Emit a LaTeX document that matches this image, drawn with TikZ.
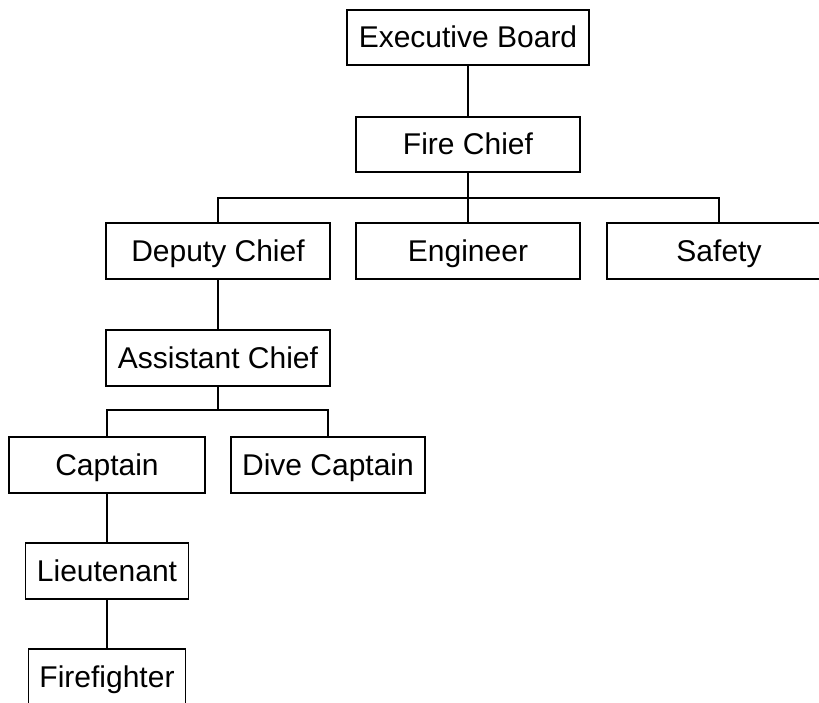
\documentclass[tikz,border=0pt]{standalone}
\usepackage{fontspec}
\setmainfont{Liberation Sans}
\begin{document}
\begin{tikzpicture}[x=1pt,y=-1pt,
  box/.style={draw=black,line width=1.7pt,fill=white,inner sep=0pt,minimum height=55pt,text height=21.5pt,text depth=1pt,font=\fontsize{30}{34}\selectfont},
  conn/.style={draw=black,line width=1.7pt}]
\useasboundingbox (0,0) rectangle (819,703);
\node[box,minimum width=242pt] (eb) at (468,37.5) {Executive Board};
\node[box,minimum width=224pt] (fc) at (468,144.5) {Fire Chief};
\node[box,minimum width=224pt,minimum height=56pt] (dc) at (218,251) {Deputy Chief};
\node[box,minimum width=224pt,minimum height=56pt] (en) at (468,251) {Engineer};
\node[box,minimum width=224pt,minimum height=56pt] (sa) at (719,251) {Safety};
\node[box,minimum width=224pt,minimum height=56pt] (ac) at (218,358) {Assistant Chief};
\node[box,minimum width=196pt,minimum height=56pt] (ca) at (107,465) {Captain};
\node[box,minimum width=194pt,minimum height=56pt] (dv) at (328,465) {Dive Captain};
\node[box,minimum width=163pt,minimum height=56pt] (lt) at (107,571) {Lieutenant};
\node[box,minimum width=157pt,minimum height=56pt] (ff) at (107,677) {Firefighter};
\coordinate (b1) at (468,198);
\coordinate (b2) at (218,410);
\draw[conn] (eb.south) -- (fc.north);
\draw[conn] (fc.south) -- (b1);
\draw[conn] (dc.north) |- (b1) -| (sa.north);
\draw[conn] (en.north) -- (en.north |- b1);
\draw[conn] (dc.south) -- (ac.north);
\draw[conn] (ac.south) -- (b2);
\draw[conn] (ca.north) |- (b2) -| (dv.north);
\draw[conn] (ca.south) -- (lt.north);
\draw[conn] (lt.south) -- (ff.north);
\end{tikzpicture}
\end{document}
